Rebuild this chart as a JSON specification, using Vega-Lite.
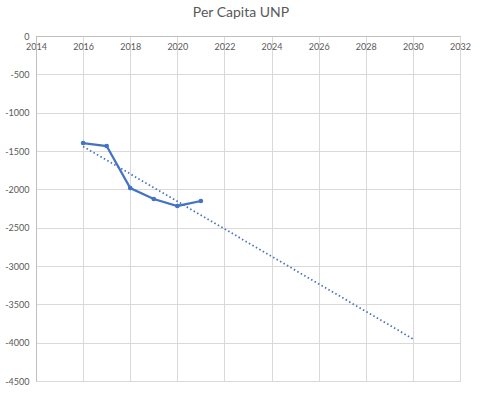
{
  "$schema": "https://vega.github.io/schema/vega-lite/v6.json",
  "width": 424,
  "height": 345,
  "autosize": {"type": "none"},
  "padding": {"left": 36, "top": 36, "right": 22, "bottom": 13},
  "background": "white",
  "title": {"text": "Per Capita UNP", "font": "Lato", "fontSize": 14, "fontWeight": "normal", "color": "#595959", "offset": 12, "frame": "group", "dx": -7},
  "config": {
    "view": {"stroke": "#d9d9d9"},
    "axis": {"labelFont": "Lato", "labelFontSize": 9, "labelColor": "#595959", "gridColor": "#d9d9d9", "domainColor": "#bfbfbf", "ticks": false, "title": null, "labelFlush": false, "labelBound": false, "labelOverlap": false}
  },
  "datasets": {
    "series": [
      {"year": 2016, "value": -1396},
      {"year": 2017, "value": -1435},
      {"year": 2018, "value": -1983},
      {"year": 2019, "value": -2126},
      {"year": 2020, "value": -2217},
      {"year": 2021, "value": -2152}
    ],
    "trend": [
      {"year": 2016, "value": -1440},
      {"year": 2030, "value": -3950}
    ]
  },
  "layer": [
    {
      "data": {"name": "trend"},
      "mark": {"type": "line", "color": "#4472C4", "strokeWidth": 1.75, "strokeDash": [1.5, 2.5]},
      "encoding": {
        "x": {"field": "year", "type": "quantitative", "scale": {"domain": [2014, 2032], "nice": false},
          "axis": {"orient": "bottom", "offset": -345, "values": [2014, 2016, 2018, 2020, 2022, 2024, 2026, 2028, 2030, 2032], "tickCount": 20, "labelExpr": "datum.value + ''", "labelPadding": 6, "labelBaseline": "top", "domainColor": "#bfbfbf"}},
        "y": {"field": "value", "type": "quantitative", "scale": {"domain": [-4500, 0], "nice": false},
          "axis": {"values": [0, -500, -1000, -1500, -2000, -2500, -3000, -3500, -4000, -4500], "tickCount": 20, "labelExpr": "datum.value + ''", "labelPadding": 7}}
      }
    },
    {
      "data": {"name": "series"},
      "mark": {"type": "line", "color": "#4472C4", "strokeWidth": 2.25, "point": {"filled": true, "size": 22, "color": "#4472C4"}},
      "encoding": {
        "x": {"field": "year", "type": "quantitative"},
        "y": {"field": "value", "type": "quantitative"}
      }
    }
  ]
}
